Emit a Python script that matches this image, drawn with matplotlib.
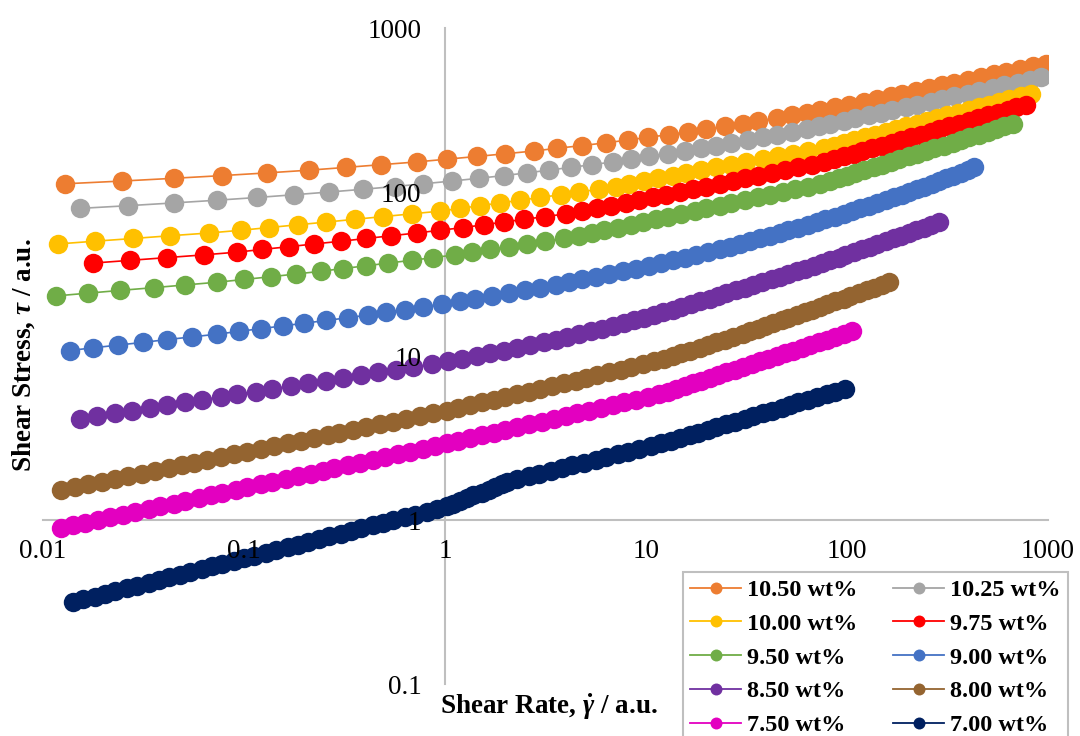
import matplotlib
matplotlib.use("Agg")
import matplotlib.pyplot as plt
from matplotlib.lines import Line2D
from matplotlib.ticker import NullLocator

plt.rcParams["font.family"] = ["Liberation Serif", "DejaVu Serif"]
plt.rcParams["mathtext.fontset"] = "custom"
plt.rcParams["mathtext.rm"] = "Liberation Serif:bold"
plt.rcParams["mathtext.it"] = "Liberation Serif:italic:bold"
plt.rcParams["mathtext.bf"] = "Liberation Serif:bold"

# shear rate / shear stress, one pair of lists per concentration
rate_1050 = [0.01283, 0.02464, 0.04467, 0.07792, 0.1308, 0.2114, 0.3224, 0.4823, 0.7217, 1.019,
             1.440, 1.995, 2.765, 3.617, 4.823, 6.310, 8.097, 10.19, 13.08, 16.16, 19.95, 24.64,
             30.43, 36.17, 44.67, 53.09, 63.10, 73.56, 87.43, 101.9, 121.2, 141.3, 164.7, 188.4,
             219.6, 256.1, 298.5, 341.5, 398.1, 464.2, 541.2, 619.0, 721.7, 841.4, 981.0]
stress_1050 = [112.2, 116.6, 121.2, 125.9, 130.8, 135.9, 141.3, 146.8, 152.5, 158.5, 164.7, 171.1,
               177.8, 184.8, 192.0, 199.5, 207.3, 215.4, 223.9, 232.6, 241.7, 251.2, 261.0, 271.2,
               281.8, 292.9, 304.3, 316.2, 328.6, 341.5, 354.8, 368.7, 383.1, 398.1, 413.7, 429.9,
               446.7, 464.2, 482.3, 501.2, 520.8, 541.2, 562.3, 584.3, 607.2]

rate_1025 = [0.01525, 0.02661, 0.04467, 0.07356, 0.1166, 0.1778, 0.2661, 0.3905, 0.5623, 0.7792,
             1.080, 1.468, 1.957, 2.561, 3.286, 4.217, 5.412, 6.813, 8.414, 10.39, 12.83, 15.55,
             18.84, 22.39, 26.61, 32.24, 38.31, 44.67, 53.09, 63.10, 72.17, 82.54, 96.24, 110.1,
             128.3, 146.8, 167.9, 195.7, 223.9, 261.0, 298.5, 341.5, 398.1, 455.3, 530.9, 607.2,
             708.0, 809.7, 926.1]
stress_1025 = [79.43, 82.54, 85.77, 89.13, 92.61, 96.24, 100.0, 103.9, 108.0, 112.2, 116.6, 121.2,
               125.9, 130.8, 135.9, 141.3, 146.8, 152.5, 158.5, 164.7, 171.1, 177.8, 184.8, 192.0,
               199.5, 207.3, 215.4, 223.9, 232.6, 241.7, 251.2, 261.0, 271.2, 281.8, 292.9, 304.3,
               316.2, 328.6, 341.5, 354.8, 368.7, 383.1, 398.1, 413.7, 429.9, 446.7, 464.2, 482.3,
               501.2]

rate_1000 = [0.01189, 0.01813, 0.02818, 0.04299, 0.06683, 0.09624, 0.1334, 0.1848, 0.2561, 0.3548,
             0.4917, 0.6813, 0.9441, 1.189, 1.496, 1.884, 2.371, 2.985, 3.758, 4.642, 5.843, 7.080,
             8.254, 9.810, 11.44, 13.59, 15.85, 18.84, 22.39, 26.61, 31.62, 38.31, 45.53, 54.12,
             64.32, 76.44, 85.77, 96.24, 108.0, 123.5, 138.6, 155.5, 174.5, 195.7, 223.9, 251.2,
             281.8, 316.2, 354.8, 405.8, 455.3, 510.9, 573.3, 643.2, 735.6, 825.4]
stress_1000 = [48.23, 50.12, 52.08, 54.12, 56.23, 58.43, 60.72, 63.10, 65.56, 68.13, 70.79, 73.56,
               76.44, 79.43, 82.54, 85.77, 89.13, 92.61, 96.24, 100.0, 103.9, 108.0, 112.2, 116.6,
               121.2, 125.9, 130.8, 135.9, 141.3, 146.8, 152.5, 158.5, 164.7, 171.1, 177.8, 184.8,
               192.0, 199.5, 207.3, 215.4, 223.9, 232.6, 241.7, 251.2, 261.0, 271.2, 281.8, 292.9,
               304.3, 316.2, 328.6, 341.5, 354.8, 368.7, 383.1, 398.1]

rate_975 = [0.01778, 0.02712, 0.04137, 0.06310, 0.09261, 0.1235, 0.1679, 0.2239, 0.3043, 0.4058,
            0.5412, 0.7217, 0.9441, 1.235, 1.555, 1.957, 2.464, 3.162, 3.981, 4.823, 5.733, 6.683,
            7.943, 9.261, 10.80, 12.59, 14.68, 17.11, 19.95, 23.26, 27.12, 31.02, 36.17, 42.17,
            49.17, 57.33, 66.83, 76.44, 85.77, 96.24, 108.0, 118.9, 133.4, 149.6, 167.9, 184.8,
            207.3, 232.6, 261.0, 287.3, 322.4, 361.7, 405.8, 446.7, 501.2, 562.3, 631.0, 694.5,
            779.2]
stress_975 = [36.87, 38.31, 39.81, 41.37, 42.99, 44.67, 46.42, 48.23, 50.12, 52.08, 54.12, 56.23,
              58.43, 60.72, 63.10, 65.56, 68.13, 70.79, 73.56, 76.44, 79.43, 82.54, 85.77, 89.13,
              92.61, 96.24, 100.0, 103.9, 108.0, 112.2, 116.6, 121.2, 125.9, 130.8, 135.9, 141.3,
              146.8, 152.5, 158.5, 164.7, 171.1, 177.8, 184.8, 192.0, 199.5, 207.3, 215.4, 223.9,
              232.6, 241.7, 251.2, 261.0, 271.2, 281.8, 292.9, 304.3, 316.2, 328.6, 341.5]

rate_950 = [0.01166, 0.01679, 0.02417, 0.03548, 0.05109, 0.07356, 0.1000, 0.1359, 0.1813, 0.2417,
            0.3102, 0.4058, 0.5208, 0.6813, 0.8743, 1.122, 1.359, 1.679, 2.073, 2.561, 3.162,
            3.905, 4.642, 5.412, 6.190, 7.217, 8.414, 9.624, 11.22, 12.83, 14.96, 17.45, 19.95,
            23.26, 26.61, 31.02, 36.17, 41.37, 48.23, 55.17, 64.32, 73.56, 82.54, 90.85, 100.0,
            110.1, 121.2, 135.9, 149.6, 164.7, 181.3, 203.4, 223.9, 246.4, 271.2, 304.3, 335.0,
            368.7, 405.8, 455.3, 501.2, 551.7, 607.2, 668.3]
stress_950 = [23.26, 24.17, 25.12, 26.10, 27.12, 28.18, 29.29, 30.43, 31.62, 32.86, 34.15, 35.48,
              36.87, 38.31, 39.81, 41.37, 42.99, 44.67, 46.42, 48.23, 50.12, 52.08, 54.12, 56.23,
              58.43, 60.72, 63.10, 65.56, 68.13, 70.79, 73.56, 76.44, 79.43, 82.54, 85.77, 89.13,
              92.61, 96.24, 100.0, 103.9, 108.0, 112.2, 116.6, 121.2, 125.9, 130.8, 135.9, 141.3,
              146.8, 152.5, 158.5, 164.7, 171.1, 177.8, 184.8, 192.0, 199.5, 207.3, 215.4, 223.9,
              232.6, 241.7, 251.2, 261.0]

rate_900 = [0.01359, 0.01778, 0.02371, 0.03162, 0.04137, 0.05517, 0.07356, 0.09441, 0.1212, 0.1555,
            0.1995, 0.2561, 0.3286, 0.4137, 0.5109, 0.6310, 0.7792, 0.9624, 1.189, 1.413, 1.711,
            2.073, 2.512, 2.985, 3.548, 4.137, 4.823, 5.623, 6.556, 7.644, 8.913, 10.39, 11.89,
            13.59, 15.55, 17.78, 20.34, 23.26, 26.10, 29.29, 32.86, 36.87, 41.37, 46.42, 51.09,
            57.33, 64.32, 70.80, 77.92, 87.43, 96.24, 105.9, 116.6, 128.3, 141.3, 155.5, 171.1,
            188.4, 203.4, 223.9, 241.7, 266.1, 287.3, 310.2, 335.0, 368.7, 398.1, 429.9]
stress_900 = [10.80, 11.22, 11.66, 12.12, 12.59, 13.08, 13.59, 14.13, 14.68, 15.25, 15.85, 16.47,
              17.11, 17.78, 18.48, 19.20, 19.95, 20.73, 21.54, 22.39, 23.26, 24.17, 25.12, 26.10,
              27.12, 28.18, 29.29, 30.43, 31.62, 32.86, 34.15, 35.48, 36.87, 38.31, 39.81, 41.37,
              42.99, 44.67, 46.42, 48.23, 50.12, 52.08, 54.12, 56.23, 58.43, 60.72, 63.10, 65.56,
              68.13, 70.79, 73.56, 76.44, 79.43, 82.54, 85.77, 89.13, 92.61, 96.24, 100.0, 103.9,
              108.0, 112.2, 116.6, 121.2, 125.9, 130.8, 135.9, 141.3]

rate_850 = [0.01525, 0.01848, 0.02282, 0.02765, 0.03415, 0.04137, 0.05109, 0.06190, 0.07644, 0.09261,
            0.1144, 0.1386, 0.1711, 0.2073, 0.2561, 0.3102, 0.3831, 0.4642, 0.5733, 0.6945,
            0.8577, 1.039, 1.212, 1.440, 1.679, 1.957, 2.282, 2.661, 3.102, 3.548, 4.058, 4.642,
            5.309, 6.072, 6.813, 7.792, 8.743, 9.810, 11.01, 12.12, 13.59, 14.96, 16.79, 18.48,
            20.73, 22.82, 25.12, 28.18, 31.02, 34.15, 37.58, 42.17, 46.42, 51.09, 56.23, 61.90,
            68.13, 74.99, 82.54, 90.85, 98.10, 108.0, 118.9, 130.8, 141.3, 155.5, 171.1, 184.8,
            203.4, 219.6, 241.7, 261.0, 287.3]
stress_850 = [4.137, 4.299, 4.467, 4.642, 4.823, 5.012, 5.208, 5.412, 5.623, 5.843, 6.072, 6.310,
              6.556, 6.813, 7.079, 7.356, 7.644, 7.943, 8.254, 8.577, 8.913, 9.261, 9.624, 10.00,
              10.39, 10.80, 11.22, 11.66, 12.12, 12.59, 13.08, 13.59, 14.13, 14.68, 15.25, 15.85,
              16.47, 17.11, 17.78, 18.48, 19.20, 19.95, 20.73, 21.54, 22.39, 23.26, 24.17, 25.12,
              26.10, 27.12, 28.18, 29.29, 30.43, 31.62, 32.86, 34.15, 35.48, 36.87, 38.31, 39.81,
              41.37, 42.99, 44.67, 46.42, 48.23, 50.12, 52.08, 54.12, 56.23, 58.43, 60.72, 63.10,
              65.56]

rate_800 = [0.01235, 0.01440, 0.01679, 0.01957, 0.02282, 0.02661, 0.03102, 0.03617, 0.04217, 0.04917,
            0.05623, 0.06556, 0.07644, 0.08913, 0.1039, 0.1212, 0.1413, 0.1647, 0.1920, 0.2239,
            0.2610, 0.2985, 0.3481, 0.4058, 0.4732, 0.5517, 0.6432, 0.7499, 0.8743, 1.019, 1.166,
            1.334, 1.525, 1.745, 1.995, 2.282, 2.610, 2.985, 3.415, 3.905, 4.467, 5.012, 5.733,
            6.556, 7.499, 8.414, 9.624, 11.01, 12.35, 13.59, 14.96, 16.47, 18.48, 20.34, 22.39,
            24.64, 27.12, 30.43, 32.86, 36.17, 39.05, 42.99, 47.32, 51.09, 56.23, 61.90, 66.83,
            73.56, 79.43, 87.43, 96.24, 103.9, 114.4, 125.9, 135.9, 149.6, 161.6]
stress_800 = [1.525, 1.585, 1.647, 1.711, 1.778, 1.848, 1.920, 1.995, 2.073, 2.154, 2.239, 2.326,
              2.417, 2.512, 2.610, 2.712, 2.818, 2.929, 3.043, 3.162, 3.286, 3.415, 3.548, 3.687,
              3.831, 3.981, 4.137, 4.299, 4.467, 4.642, 4.823, 5.012, 5.208, 5.412, 5.623, 5.843,
              6.072, 6.310, 6.556, 6.813, 7.079, 7.356, 7.644, 7.943, 8.254, 8.577, 8.913, 9.261,
              9.624, 10.00, 10.39, 10.80, 11.22, 11.66, 12.12, 12.59, 13.08, 13.59, 14.13, 14.68,
              15.25, 15.85, 16.47, 17.11, 17.78, 18.48, 19.20, 19.95, 20.73, 21.54, 22.39, 23.26,
              24.17, 25.12, 26.10, 27.12, 28.18]

rate_750 = [0.01235, 0.01413, 0.01616, 0.01884, 0.02154, 0.02512, 0.02873, 0.03350, 0.03831, 0.04467,
            0.05109, 0.05957, 0.06813, 0.07792, 0.09085, 0.1039, 0.1212, 0.1386, 0.1616, 0.1848,
            0.2154, 0.2464, 0.2818, 0.3286, 0.3758, 0.4382, 0.5012, 0.5843, 0.6683, 0.7792,
            0.8913, 1.019, 1.166, 1.334, 1.525, 1.745, 1.995, 2.282, 2.610, 3.043, 3.481, 3.981,
            4.553, 5.208, 5.957, 6.813, 7.792, 8.913, 10.19, 11.66, 12.83, 14.13, 15.55, 17.11,
            18.84, 20.73, 22.82, 25.12, 27.65, 30.43, 33.50, 36.87, 40.58, 44.67, 49.17, 54.12,
            59.57, 65.56, 72.17, 79.43, 87.43, 96.24, 105.9]
stress_750 = [0.8913, 0.9261, 0.9624, 1.000, 1.039, 1.080, 1.122, 1.166, 1.212, 1.259, 1.308, 1.359,
              1.413, 1.468, 1.525, 1.585, 1.647, 1.711, 1.778, 1.848, 1.920, 1.995, 2.073, 2.154,
              2.239, 2.326, 2.417, 2.512, 2.610, 2.712, 2.818, 2.929, 3.043, 3.162, 3.286, 3.415,
              3.548, 3.687, 3.831, 3.981, 4.137, 4.299, 4.467, 4.642, 4.823, 5.012, 5.208, 5.412,
              5.623, 5.843, 6.072, 6.310, 6.556, 6.813, 7.079, 7.356, 7.644, 7.943, 8.254, 8.577,
              8.913, 9.261, 9.624, 10.00, 10.39, 10.80, 11.22, 11.66, 12.12, 12.59, 13.08, 13.59,
              14.13]

rate_700 = [0.01413, 0.01585, 0.01813, 0.02034, 0.02282, 0.02610, 0.02929, 0.03350, 0.03758, 0.04217,
            0.04823, 0.05412, 0.06190, 0.06945, 0.07792, 0.08913, 0.1000, 0.1122, 0.1283, 0.1440,
            0.1647, 0.1848, 0.2073, 0.2371, 0.2661, 0.3043, 0.3415, 0.3831, 0.4382, 0.4917,
            0.5517, 0.6310, 0.7080, 0.8097, 0.9085, 1.019, 1.101, 1.189, 1.283, 1.386, 1.525,
            1.647, 1.778, 1.920, 2.034, 2.282, 2.610, 2.929, 3.350, 3.831, 4.299, 4.917, 5.623,
            6.310, 7.217, 8.097, 9.261, 10.59, 11.89, 13.34, 14.68, 16.47, 18.13, 20.34, 22.39,
            25.12, 27.65, 31.02, 34.15, 38.31, 42.17, 47.32, 52.08, 57.33, 64.32, 70.80, 79.43,
            87.43, 98.10]
stress_700 = [0.3162, 0.3286, 0.3415, 0.3548, 0.3687, 0.3831, 0.3981, 0.4137, 0.4299, 0.4467,
              0.4642, 0.4823, 0.5012, 0.5208, 0.5412, 0.5623, 0.5843, 0.6072, 0.6310, 0.6556,
              0.6813, 0.7079, 0.7356, 0.7644, 0.7943, 0.8254, 0.8577, 0.8913, 0.9261, 0.9624,
              1.000, 1.039, 1.080, 1.122, 1.166, 1.212, 1.259, 1.308, 1.359, 1.413, 1.468, 1.525,
              1.585, 1.647, 1.711, 1.778, 1.848, 1.920, 1.995, 2.073, 2.154, 2.239, 2.326, 2.417,
              2.512, 2.610, 2.712, 2.818, 2.929, 3.043, 3.162, 3.286, 3.415, 3.548, 3.687, 3.831,
              3.981, 4.137, 4.299, 4.467, 4.642, 4.823, 5.012, 5.208, 5.412, 5.623, 5.843, 6.072,
              6.310]

labels = ["10.50 wt%", "10.25 wt%", "10.00 wt%", "9.75 wt%", "9.50 wt%",
          "9.00 wt%", "8.50 wt%", "8.00 wt%", "7.50 wt%", "7.00 wt%"]
colors = ["#ED7D31", "#A5A5A5", "#FFC000", "#FF0000", "#70AD47",
          "#4472C4", "#7030A0", "#946430", "#E300C0", "#002060"]
rates = [rate_1050, rate_1025, rate_1000, rate_975, rate_950,
         rate_900, rate_850, rate_800, rate_750, rate_700]
stresses = [stress_1050, stress_1025, stress_1000, stress_975, stress_950,
            stress_900, stress_850, stress_800, stress_750, stress_700]

xticks = [0.01, 0.1, 1, 10, 100, 1000]
xtick_labels = ["0.01", "0.1", "1", "10", "100", "1000"]
yticks = [0.1, 1, 10, 100, 1000]
ytick_labels = ["0.1", "1", "10", "100", "1000"]

fig = plt.figure(figsize=(10.8, 7.36), dpi=100)
ax = fig.add_axes([43 / 1080, 52 / 736, 1005 / 1080, 656 / 736])

for x, y, c in zip(rates, stresses, colors):
    ax.plot(x, y, color=c, lw=1.2, marker="o", markersize=14,
            markeredgewidth=0, zorder=3)

ax.set_xscale("log")
ax.set_yscale("log")
ax.set_xlim(0.01, 1000)
ax.set_ylim(0.1, 1000)

# Excel-style axes crossing at (1, 1)
for side in ("top", "right"):
    ax.spines[side].set_visible(False)
for side in ("left", "bottom"):
    ax.spines[side].set_position(("data", 1.0))
    ax.spines[side].set_color("#BFBFBF")
    ax.spines[side].set_linewidth(1.5)

ax.set_xticks(xticks, labels=xtick_labels)
ax.set_yticks(yticks, labels=ytick_labels)
ax.xaxis.set_minor_locator(NullLocator())
ax.yaxis.set_minor_locator(NullLocator())
ax.tick_params(axis="x", length=0, pad=14, labelsize=19.5)
ax.tick_params(axis="y", length=0, pad=17, labelsize=19.5)
ax.xaxis.set_zorder(5)
ax.yaxis.set_zorder(5)

fig.text(440 / 1080, 1 - 707 / 736, r"Shear Rate, $\dot{\gamma}$ / a.u.",
         fontsize=19.5, fontweight="bold", ha="left", va="center")
fig.text(24 / 1080, 1 - 355 / 736, r"Shear Stress, $\tau$ / a.u.",
         fontsize=19.5, fontweight="bold", rotation=90, ha="center", va="center")

# legend is filled row by row in the original, matplotlib fills by column;
# like the original, the box runs past the bottom edge of the figure
handles = [Line2D([], [], color=c, lw=1.3, marker="o", markersize=8.6,
                  markeredgewidth=0) for c in colors]
order = [0, 2, 4, 6, 8, 1, 3, 5, 7, 9]
leg = ax.legend([handles[i] for i in order], [labels[i] for i in order],
                loc="upper left", bbox_to_anchor=(683 / 1080, 1 - 572 / 736),
                bbox_transform=fig.transFigure, ncol=2,
                prop={"family": "Liberation Serif", "weight": "bold", "size": 17.5},
                frameon=True, fancybox=False, framealpha=1, edgecolor="#BFBFBF",
                borderpad=0.3, labelspacing=0.48, handlelength=2.1,
                handletextpad=0.25, columnspacing=1.45, borderaxespad=0)
leg.get_frame().set_linewidth(1.5)
leg.set_zorder(10)

fig.savefig("out.png", dpi=100)
